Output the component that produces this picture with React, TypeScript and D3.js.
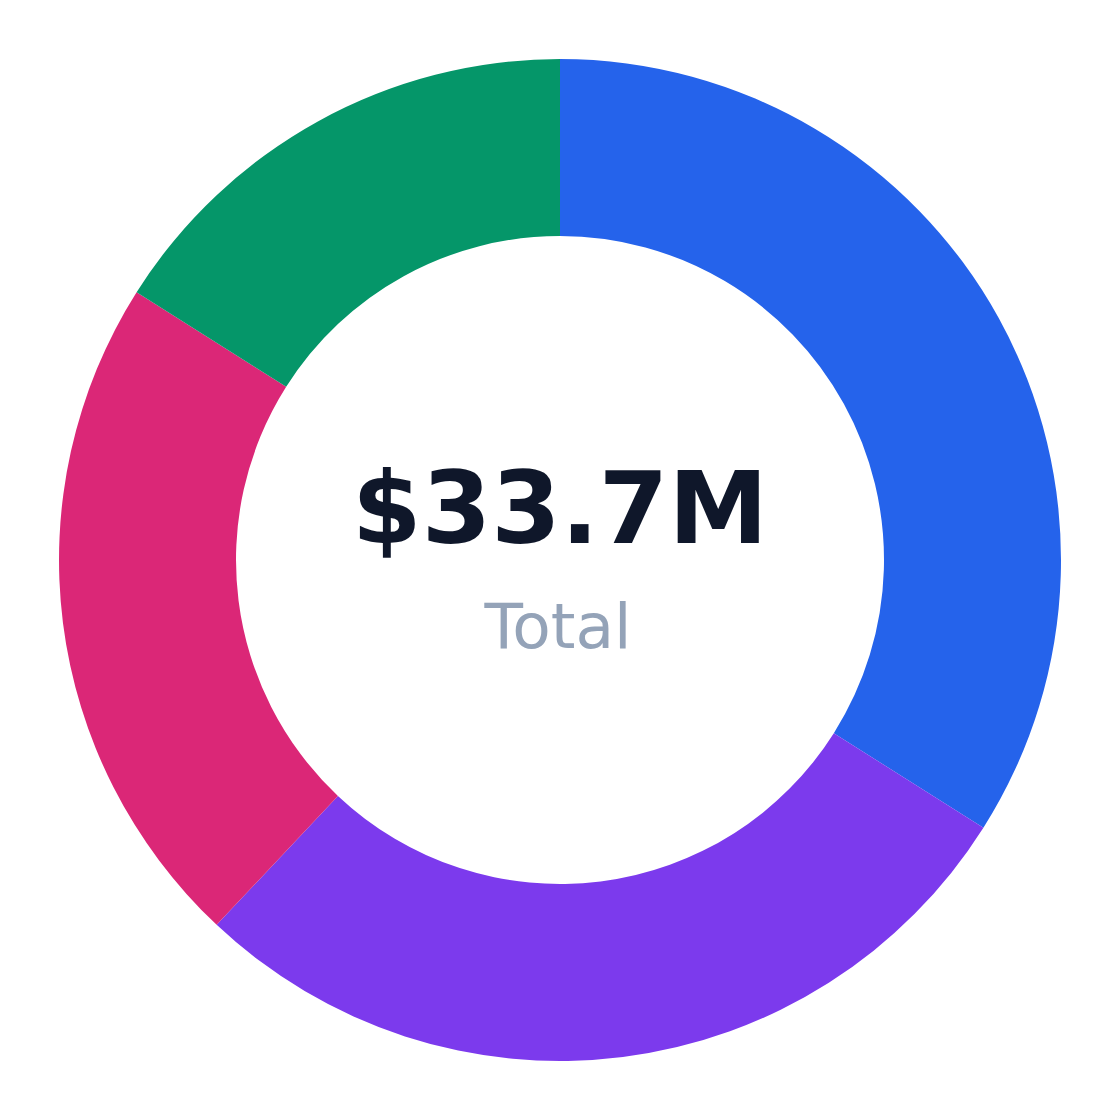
import React from 'react';
import * as d3 from 'd3';

const categories = ['Blue', 'Purple', 'Pink', 'Green'];
const values = [11.45, 9.45, 7.4, 5.4];
const colors = ['#2563eb', '#7c3aed', '#db2777', '#059669'];
const totalLabel = 'Total';

const width = 1120;
const height = 1120;
const outerRadius = 501;
const innerRadius = 324;

const App: React.FC = () => {
  const data = categories.map((c, i) => ({ name: c, value: values[i], color: colors[i] }));

  const pie = d3.pie<{ name: string; value: number; color: string }>()
    .sort(null)
    .value(d => d.value);

  const arc = d3.arc<d3.PieArcDatum<{ name: string; value: number; color: string }>>()
    .innerRadius(innerRadius)
    .outerRadius(outerRadius);

  const total = d3.sum(values);

  return (
    <svg
      width={width}
      height={height}
      style={{ position: 'absolute', left: 0, top: 0, background: '#fff' }}
    >
      <g transform={`translate(${width / 2}, ${height / 2})`}>
        {pie(data).map(d => (
          <path key={d.data.name} d={arc(d) || ''} fill={d.data.color} />
        ))}
        <text
          x={0}
          y={-17}
          textAnchor="middle"
          fontFamily="DejaVu Sans, sans-serif"
          fontWeight="bold"
          fontSize={100}
          fill="#0f172a"
        >
          {`$${total.toFixed(1)}M`}
        </text>
        <text
          x={-2}
          y={88}
          textAnchor="middle"
          fontFamily="DejaVu Sans, sans-serif"
          fontSize={63}
          fill="#94a3b8"
        >
          {totalLabel}
        </text>
      </g>
    </svg>
  );
};

export default App;
